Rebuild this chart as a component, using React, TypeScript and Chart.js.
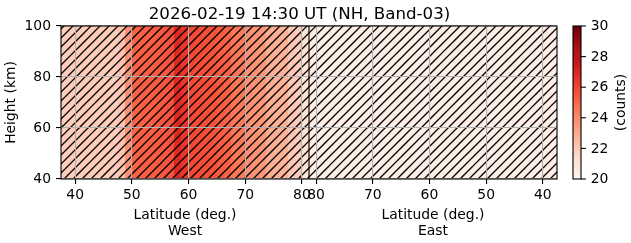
import React, { useEffect, useRef } from 'react';
import { Chart, registerables } from 'chart.js';

Chart.register(...registerables);

// ---------------- data ----------------
const chartTitle = '2026-02-19 14:30 UT (NH, Band-03)';
const panelNames = ['West', 'East'];
const xAxisLabel = 'Latitude (deg.)';
const yAxisLabel = 'Height (km)';
const colorbarLabel = '(counts)';

// latitude bin edges (deg.), shared by both panels
const latEdges = [
  37.5, 38.75, 40, 41.25, 42.5, 43.75, 45, 46.25, 47.5, 48.75, 50, 51.25,
  52.5, 53.75, 55, 56.25, 57.5, 58.75, 60, 61.25, 62.5, 63.75, 65, 66.25,
  67.5, 68.75, 70, 71.25, 72.5, 73.75, 75, 76.25, 77.5, 78.75, 80, 81.25,
];
// height edges (km)
const heightEdges = [40, 100];

// counts per latitude bin
const westCounts = [
  21.9, 21.9, 21.9, 21.9, 21.9, 21.9, 21.9, 21.9, 22.2,
  23.8,
  25.2, 25.3, 25.3, 25.4, 25.5, 25.6,
  26.9, 26.4,
  25.9, 25.8, 25.7, 25.6, 25.4, 25.2,
  24.6, 24.5,
  23.8, 23.7, 23.6,
  22.9, 22.8, 22.7,
  22.1, 21.9,
  21.1,
];
const eastCounts = [
  20.4, 20.4, 20.4, 20.4, 20.4, 20.4, 20.4, 20.4, 20.4, 20.4, 20.4, 20.4,
  20.4, 20.4, 20.4, 20.4, 20.4, 20.4, 20.4, 20.4, 20.4, 20.4, 20.4, 20.4,
  20.4, 20.4, 20.4, 20.4, 20.4, 20.4, 20.4, 20.4, 20.4, 20.4, 20.4,
];

const westTicks = [40, 50, 60, 70, 80];
const eastTicks = [80, 70, 60, 50, 40];
const heightTicks = [40, 60, 80, 100];
const colorTicks = [20, 22, 24, 26, 28, 30];
const colorMin = 20;
const colorMax = 30;

// ---------------- helpers ----------------
const MIRROR = 162.5; // east panel position = MIRROR - latitude
const LAT_MIN = 37.5;
const LAT_MAX = 81.25;
const FONT = "'DejaVu Sans', sans-serif";
const FS = 13.9;

const REDS = ['#fff5f0', '#fee0d2', '#fcbba1', '#fc9272', '#fb6a4a', '#ef3b2c', '#cb181d', '#a50f15', '#67000d'];
const hexRgb = (h: string) => [1, 3, 5].map((i) => parseInt(h.slice(i, i + 2), 16));
function reds(v: number): string {
  let t = (v - colorMin) / (colorMax - colorMin);
  t = Math.max(0, Math.min(1, t));
  const p = t * (REDS.length - 1);
  const i = Math.min(REDS.length - 2, Math.floor(p));
  const f = p - i;
  const a = hexRgb(REDS[i]);
  const b = hexRgb(REDS[i + 1]);
  const c = a.map((x, k) => Math.round(x + (b[k] - x) * f));
  return `rgb(${c[0]},${c[1]},${c[2]})`;
}

function makeHatch(ctx: CanvasRenderingContext2D) {
  const S = 27;
  const d = S / 3;
  const c = document.createElement('canvas');
  c.width = S;
  c.height = S;
  const g = c.getContext('2d')!;
  g.strokeStyle = '#000';
  g.lineWidth = 1.25;
  for (let k = -1; k <= 7; k++) {
    g.beginPath();
    g.moveTo(k * d + S, -S);
    g.lineTo(k * d - 2 * S, 2 * S);
    g.stroke();
  }
  return ctx.createPattern(c, 'repeat');
}

const xTickPositions = [...westTicks, ...eastTicks.map((v) => MIRROR - v)];
const xTickLabel = (v: number) => String(v > LAT_MAX ? Math.round(MIRROR - v) : Math.round(v));

const heatPlugin = {
  id: 'heat',
  beforeDraw(chart: any) {
    const { ctx, chartArea: a, scales } = chart;
    const x = scales.x;
    const y = scales.y;
    ctx.save();
    ctx.fillStyle = '#fff';
    ctx.fillRect(0, 0, chart.width, chart.height);
    const yt = Math.round(y.getPixelForValue(heightEdges[1]));
    const yb = Math.round(y.getPixelForValue(heightEdges[0]));
    const panel = (vals: number[], toX: (l: number) => number) => {
      for (let i = 0; i < vals.length; i++) {
        const xa = Math.round(x.getPixelForValue(toX(latEdges[i])));
        const xb = Math.round(x.getPixelForValue(toX(latEdges[i + 1])));
        ctx.fillStyle = reds(vals[i]);
        ctx.fillRect(Math.min(xa, xb), yt, Math.abs(xb - xa), yb - yt);
      }
    };
    panel(westCounts, (l) => l);
    panel(eastCounts, (l) => MIRROR - l);
    const pat = makeHatch(ctx);
    if (pat) {
      ctx.fillStyle = pat;
      ctx.fillRect(a.left, a.top, a.right - a.left, a.bottom - a.top);
    }
    ctx.restore();
  },
  afterDraw(chart: any) {
    const { ctx, chartArea: a, scales } = chart;
    const x = scales.x;
    ctx.save();
    // frame + divider
    ctx.strokeStyle = '#000';
    ctx.lineWidth = 1.1;
    ctx.strokeRect(a.left, a.top, a.right - a.left, a.bottom - a.top);
    const xd = x.getPixelForValue(LAT_MAX);
    ctx.beginPath();
    ctx.moveTo(xd, a.top);
    ctx.lineTo(xd, a.bottom);
    ctx.stroke();

    ctx.fillStyle = '#000';
    // title
    ctx.font = `16.67px ${FONT}`;
    ctx.textAlign = 'center';
    ctx.textBaseline = 'alphabetic';
    ctx.fillText(chartTitle, 299.5, 18.5);

    // panel x labels
    ctx.font = `${FS}px ${FONT}`;
    const wc = (x.getPixelForValue(LAT_MIN) + xd) / 2;
    const ec = (xd + x.getPixelForValue(MIRROR - LAT_MIN)) / 2;
    [wc, ec].forEach((cx, i) => {
      ctx.fillText(xAxisLabel, cx, a.bottom + 39.6);
      ctx.fillText(panelNames[i], cx, a.bottom + 56.2);
    });

    // colorbar
    const cl = a.right + 16;
    const cw = 8;
    const top = a.top;
    const bot = a.bottom;
    const h = bot - top;
    for (let py = 0; py < h; py++) {
      const v = colorMin + ((h - py - 0.5) / h) * (colorMax - colorMin);
      ctx.fillStyle = reds(v);
      ctx.fillRect(cl, top + py, cw, 1);
    }
    ctx.strokeStyle = '#000';
    ctx.lineWidth = 1.1;
    ctx.strokeRect(cl, top, cw, h);
    ctx.fillStyle = '#000';
    ctx.textAlign = 'left';
    ctx.textBaseline = 'middle';
    colorTicks.forEach((v) => {
      const py = bot - ((v - colorMin) / (colorMax - colorMin)) * h;
      ctx.beginPath();
      ctx.moveTo(cl + cw, py);
      ctx.lineTo(cl + cw + 4.9, py);
      ctx.stroke();
      ctx.fillText(String(v), cl + cw + 9.7, py + 0.5);
    });
    ctx.save();
    ctx.translate(a.right + 64.5, (top + bot) / 2);
    ctx.rotate(-Math.PI / 2);
    ctx.textAlign = 'center';
    ctx.textBaseline = 'middle';
    ctx.fillText(colorbarLabel, 0, 0);
    ctx.restore();
    ctx.restore();
  },
};

export default function App() {
  const ref = useRef<HTMLCanvasElement | null>(null);
  useEffect(() => {
    if (!ref.current) return;
    const chart = new Chart(ref.current, {
      type: 'scatter',
      data: { datasets: [{ data: [] }] },
      plugins: [heatPlugin],
      options: {
        animation: false,
        responsive: false,
        devicePixelRatio: 1,
        layout: { padding: { top: 26, right: 74, bottom: 0, left: 0 } },
        plugins: { legend: { display: false }, tooltip: { enabled: false } },
        scales: {
          x: {
            type: 'linear',
            min: LAT_MIN,
            max: MIRROR - LAT_MIN,
            afterBuildTicks: (s: any) => {
              s.ticks = xTickPositions.map((v) => ({ value: v }));
            },
            afterFit: (s: any) => {
              s.height = 64;
            },
            ticks: {
              autoSkip: false,
              maxRotation: 0,
              minRotation: 0,
              padding: 3,
              color: '#000',
              font: { family: FONT, size: FS },
              callback: (v: any) => xTickLabel(Number(v)),
            },
            grid: { color: '#b0b0b0', lineWidth: 1.1, tickColor: '#000', tickLength: 5 },
            border: { display: false },
          },
          y: {
            type: 'linear',
            min: heightEdges[0],
            max: heightEdges[1],
            afterBuildTicks: (s: any) => {
              s.ticks = heightTicks.map((v) => ({ value: v }));
            },
            afterFit: (s: any) => {
              s.width = 61;
            },
            ticks: {
              padding: 5,
              color: '#000',
              font: { family: FONT, size: FS },
            },
            grid: { color: '#b0b0b0', lineWidth: 1.1, tickColor: '#000', tickLength: 5 },
            border: { display: false },
            title: {
              display: true,
              text: yAxisLabel,
              color: '#000',
              font: { family: FONT, size: FS },
              padding: { top: 3.5, bottom: 0 },
            },
          },
        },
      },
    });
    return () => chart.destroy();
  }, []);
  return (
    <div style={{ position: 'fixed', left: 0, top: 0 }}>
      <canvas ref={ref} width={631} height={243} />
    </div>
  );
}
